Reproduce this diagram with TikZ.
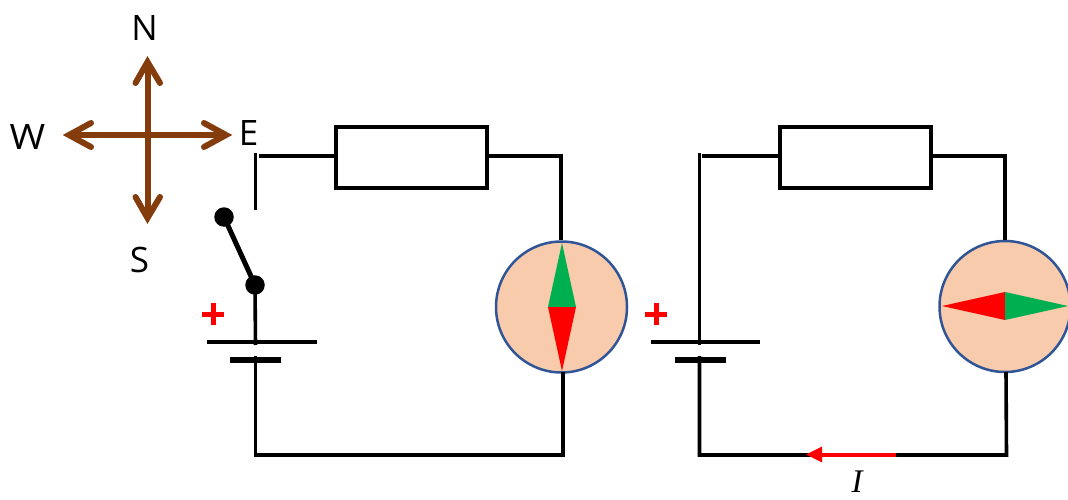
\documentclass[tikz,border=0pt]{standalone}
\usepackage{fontspec}
\setmainfont{Open Sans}
\newfontfamily\serifi{Liberation Serif}
\definecolor{brownc}{HTML}{843C0C}
\definecolor{peach}{HTML}{F8CBAD}
\definecolor{ringc}{HTML}{2F5597}
\definecolor{greenc}{HTML}{00B050}
\definecolor{redc}{HTML}{FF0000}
\tikzset{
  wire/.style={draw=black,line width=3.6pt},
  plate/.style={draw=black,line width=3.6pt},
  shortplate/.style={draw=black,line width=6pt},
  resistor/.style={draw=black,line width=3.6pt,fill=white,minimum width=151pt,minimum height=61pt,inner sep=0pt,rectangle},
  compassbody/.style={circle,draw=ringc,fill=peach,line width=2.5pt,minimum size=131pt,inner sep=0pt},
  contact/.style={circle,fill=black,minimum size=19.5pt,inner sep=0pt},
  dirarrow/.style={draw=brownc,line width=6pt},
  chev/.style={draw=brownc,line width=6pt,line cap=round,line join=miter},
  dirlabel/.style={font=\fontsize{35}{35}\selectfont,text=black,inner sep=0pt},
  pluslabel/.style={draw=redc,line width=5pt}
}
\begin{document}
\begin{tikzpicture}[x=1pt,y=-1pt]
\useasboundingbox (0,0) rectangle (1068,500);
\clip (0,0) rectangle (1068,500);
% compass rose
\coordinate (cN) at (147.5,62);
\coordinate (cS) at (147.5,218);
\coordinate (cW) at (69,135);
\coordinate (cE) at (226,135);
\draw[dirarrow] (cN) -- (cS);
\draw[dirarrow] (cW) -- (cE);
\draw[chev] (135.5,83) -- (147.5,62) -- (160,83);
\draw[chev] (135.5,197) -- (147.5,218) -- (160,197);
\draw[chev] (91,123) -- (69,135) -- (91,147);
\draw[chev] (204,123) -- (226,135) -- (204,147);
\node[dirlabel] (lN) at (144.5,28) {N};
\node[dirlabel] (lS) at (139.5,260) {S};
\node[dirlabel,xscale=1.1] (lW) at (27.5,137.5) {W};
\node[dirlabel] (lE) at (248.5,133) {E};
% left circuit
\node[resistor] (R1) at (411.5,157.5) {};
\node[compassbody] (C1) at (561.5,307) {};
\node[contact] (sw1) at (224,217) {};
\node[contact] (sw2) at (255,285) {};
\coordinate (tl) at (259,156);
\coordinate (tr) at (561,156);
\coordinate (bl) at (255.5,455);
\coordinate (br) at (563,455);
\coordinate (stub1) at (255.5,153.5);
\coordinate (stub2) at (255.5,210);
\coordinate (batA) at (255.5,345);
\coordinate (batB) at (255.5,356);
\coordinate (p1a) at (207,342);
\coordinate (p1b) at (317,342);
\coordinate (p2a) at (230,360);
\coordinate (p2b) at (281,360);
\draw[wire] (stub1) -- (stub2);
\draw[wire] (tl) -- (R1.west |- tl);
\draw[wire] (R1.east |- tr) -- (tr) -- (C1.north -| tr);
\draw[wire,line join=miter] (563,372) -- (br) -- (bl) -- (batB);
\draw[wire] (sw2.center) -- (batA);
\draw[line width=5pt] (sw1.center) -- (sw2.center);
\draw[plate] (p1a) -- (p1b);
\draw[shortplate] (p2a) -- (p2b);
\draw[pluslabel] (202,314) -- (224,314) (213,303) -- (213,325);
% left needle
\fill[greenc] (562,243) -- (548,307) -- (576,307) -- cycle;
\fill[redc] (562,371) -- (548,307) -- (576,307) -- cycle;
% right circuit
\node[resistor] (R2) at (855.5,157.5) {};
\node[compassbody] (C2) at (1005,306.5) {};
\coordinate (tl2) at (702,156);
\coordinate (tr2) at (1005,156);
\coordinate (bl2) at (699.5,455);
\coordinate (br2) at (1006.5,455);
\coordinate (batA2) at (699.5,345);
\coordinate (batB2) at (699.5,356);
\coordinate (top2) at (699.5,153.5);
\coordinate (q1a) at (651,342);
\coordinate (q1b) at (760,342);
\coordinate (q2a) at (675,360);
\coordinate (q2b) at (726,360);
\coordinate (arrS) at (896,454.5);
\coordinate (arrE) at (806,454.5);
\draw[wire] (batA2) -- (top2);
\draw[wire] (tl2) -- (R2.west |- tl2);
\draw[wire] (R2.east |- tr2) -- (tr2) -- (C2.north -| tr2);
\draw[wire] (1006,372) -- (br2) -- (bl2) -- (batB2);
\draw[plate] (q1a) -- (q1b);
\draw[shortplate] (q2a) -- (q2b);
\draw[pluslabel] (645,314) -- (667,314) (656,303) -- (656,325);
% right needle
\fill[redc] (942,306) -- (1005,292) -- (1005,320) -- cycle;
\fill[greenc] (1068,306) -- (1005,292) -- (1005,320) -- cycle;
% current arrow
\draw[draw=redc,line width=4pt] (arrS) -- (818,454.5);
\fill[redc] (arrE) -- (822,446.5) -- (822,462.5) -- cycle;
\node[font=\fontsize{33}{33}\selectfont\serifi\itshape,text=black,inner sep=0pt,anchor=base] (lI) at (857,492.5) {I};
\end{tikzpicture}
\end{document}
